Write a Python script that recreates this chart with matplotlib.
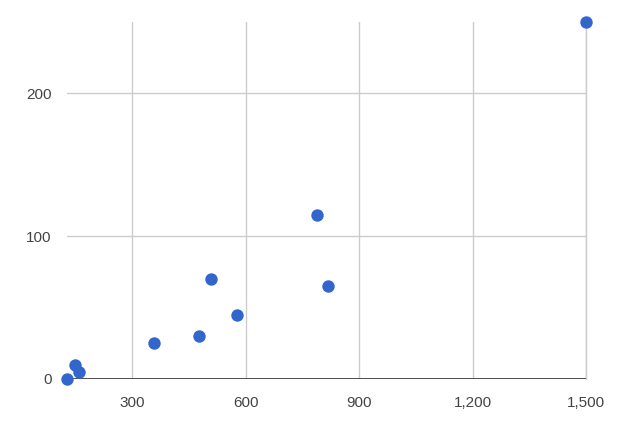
import matplotlib
matplotlib.use("Agg")
import matplotlib.pyplot as plt
from matplotlib.ticker import FuncFormatter

# data
x_vals = [127, 148, 159, 359, 478, 509, 578, 789, 819, 1500]
y_vals = [0, 10, 5, 25, 30, 70, 45, 115, 65, 250]
x_ticks = [300, 600, 900, 1200, 1500]
y_ticks = [0, 100, 200]

plt.rcParams['font.family'] = ['Liberation Sans', 'DejaVu Sans']

fig = plt.figure(figsize=(6.3, 4.25), dpi=100)
ax = fig.add_axes([66.7 / 630, 46 / 425, (586 - 66.7) / 630, (379 - 22) / 425])

ax.set_xlim(min(x_vals), max(x_vals))
ax.set_ylim(0, max(y_vals))

ax.set_xticks(x_ticks)
ax.set_yticks(y_ticks)
ax.xaxis.set_major_formatter(FuncFormatter(lambda v, p: f"{int(v):,}"))

for s in ax.spines.values():
    s.set_visible(False)

ax.grid(True, color='#cccccc', linewidth=1)
ax.set_axisbelow(True)
# let the 1,500 gridline show at the right edge
ax.axvline(max(x_vals), color='#cccccc', linewidth=1, zorder=1, clip_on=False)
ax.axhline(0, color='#333333', linewidth=1.2, zorder=2)

ax.tick_params(length=0, labelsize=11, labelcolor='#444444')
ax.tick_params(axis='x', pad=12)
ax.tick_params(axis='y', pad=11)

ax.scatter(x_vals, y_vals, s=80, color='#3366cc', zorder=3, clip_on=False, linewidths=0)

fig.savefig('out.png', dpi=100)
